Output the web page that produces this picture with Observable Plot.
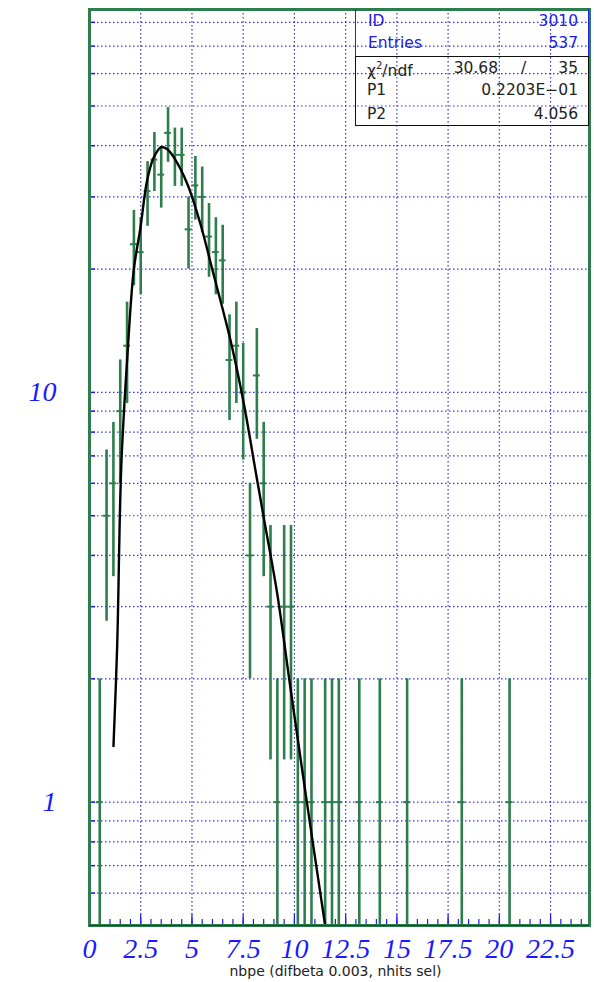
<!DOCTYPE html>
<html>
<head>
<meta charset="utf-8">
<script src="https://cdn.jsdelivr.net/npm/d3@7"></script>
<script src="https://cdn.jsdelivr.net/npm/@observablehq/plot@0.6"></script>
<style>
  body { margin: 0; background: #fff; }
  #chart { position: relative; width: 594px; height: 982px; }
  #chart svg { display: block; }
  .stats { position: absolute; font-family: "DejaVu Sans", "Liberation Sans", sans-serif; font-size: 15.5px; box-sizing: border-box; }
  .stats span { position: absolute; white-space: nowrap; line-height: 1; }
  .upper { left: 355px; top: 9px; width: 234px; height: 47px; border-left: 1.5px solid #2020e8; border-right: 1.5px solid #2020e8; color: #2020e8; }
  .lower { left: 355px; top: 56px; width: 234px; height: 70px; border: 1.5px solid #111; color: #222; }
</style>
</head>
<body>
<div id="chart"></div>
<script>
// nbpe histogram: bin centres (bin width 1/3) and entries per bin
const binWidth = 1 / 3;
const nbpe = [0.5, 0.833, 1.167, 1.5, 1.833, 2.167, 2.5, 2.833, 3.167, 3.5,
              3.833, 4.167, 4.5, 4.833, 5.167, 5.5, 5.833, 6.167, 6.5, 6.833,
              7.167, 7.5, 7.833, 8.167, 8.5, 8.833, 9.167, 9.5, 9.833, 10.167,
              10.5, 10.833, 11.5, 11.833, 12.167, 13.167, 14.167, 15.5, 18.167, 20.5];
const entries = [1, 5, 6, 9, 13, 23, 22, 31, 37, 34,
                 43, 38, 38, 25, 32, 30, 24, 22, 21, 12,
                 13, 10, 4, 11, 6, 3, 1, 3, 3, 1,
                 1, 1, 1, 1, 1, 1, 1, 1, 1, 1];

// Fitted function, sampled along the curve
const fitX = [1.17, 1.35, 1.55, 1.85, 2.16, 2.49, 2.81, 3.14, 3.5, 3.8,
              4.11, 4.77, 5.41, 6.0, 6.88, 7.53, 8.1, 8.5, 9.16, 9.8, 10.62, 11.5];
const fitY = [1.37, 2.4, 6.6, 12.3, 19.9, 25.3, 32.9, 37.5, 39.7, 39.2,
              37.5, 32.3, 25.8, 19.9, 13.4, 9.4, 6.45, 4.96, 3.23, 1.91, 0.99, 0.5];

// Axis ticks and labels
const xLabels = [0, 2.5, 5, 7.5, 10, 12.5, 15, 17.5, 20, 22.5];
const xMinor = d3.range(0, 24.5, 0.5);
const yLabels = [1, 10];
const yGrid = [0.6, 0.7, 0.8, 0.9, 1, 2, 3, 4, 5, 6, 7, 8, 9, 10, 20, 30, 40, 50, 60, 70, 80];
const xTitle = "nbpe (difbeta 0.003, nhits sel)";

// Statistics box
const statId = "3010";
const statEntries = "537";
const chi2 = "30.68", ndf = "35";
const p1 = "0.2203E\u221201", p2 = "4.056";

const green = "#2e7d4c";
const blue = "#1a1aff";
const yMin = 0.5, yMax = 86;

const bins = nbpe.map((x, i) => ({x, n: entries[i]}));
const fit = fitX.map((x, i) => ({x, y: fitY[i]}));
const half = binWidth / 2;
const serif = "'Liberation Serif', 'DejaVu Serif', serif";

const chart = Plot.plot({
  width: 594,
  height: 982,
  marginLeft: 89,
  marginRight: 5,
  marginTop: 9,
  marginBottom: 57,
  style: {background: "white", overflow: "visible"},
  x: {domain: [0, 24.4], label: null},
  y: {type: "log", domain: [yMin, yMax], label: null},
  marks: [
    Plot.gridX(xLabels.slice(1), {stroke: blue, strokeOpacity: 0.9, strokeWidth: 1.2, strokeDasharray: "1.5,2.5"}),
    Plot.gridY(yGrid, {stroke: blue, strokeOpacity: 0.9, strokeWidth: 1.2, strokeDasharray: "1.5,2.5"}),
    Plot.axisY(yGrid, {tickSize: 6, dx: 6, fill: "none", stroke: blue, strokeWidth: 1.5, label: null}),
    Plot.axisX(xMinor, {tickSize: 6, dy: -6, fill: "none", stroke: blue, strokeWidth: 1.2, label: null}),
    Plot.axisX(xLabels, {tickSize: 11, dy: -11, fill: "none", stroke: blue, strokeWidth: 1.2, label: null}),
    Plot.axisX(xLabels, {
      tickSize: 0, tickPadding: 13, fill: blue, label: null, tickFormat: d => String(d),
      fontSize: 28, fontStyle: "italic", fontFamily: serif
    }),
    Plot.axisY(yLabels, {
      tickSize: 0, tickPadding: 33, fill: blue, label: null, tickFormat: d => String(d),
      fontSize: 28, fontStyle: "italic", fontFamily: serif
    }),
    // statistical error bars (sqrt N) and bin-width markers
    Plot.ruleX(bins, {
      x: "x",
      y1: d => Math.max(d.n - Math.sqrt(d.n), yMin),
      y2: d => d.n + Math.sqrt(d.n),
      stroke: green, strokeWidth: 2.6
    }),
    Plot.ruleY(bins, {y: "n", x1: d => d.x - half, x2: d => d.x + half, stroke: green, strokeWidth: 2}),
    Plot.line(fit, {x: "x", y: "y", stroke: "black", strokeWidth: 2.4, curve: "catmull-rom", clip: true}),
    Plot.frame({stroke: green, strokeWidth: 3}),
    Plot.ruleY([yMin], {stroke: blue, strokeWidth: 1}),
    Plot.text([xTitle], {
      frameAnchor: "bottom", dy: 50, dx: -4, fill: "#222",
      fontSize: 14, fontFamily: "'DejaVu Sans', 'Liberation Sans', sans-serif"
    })
  ]
});

const root = document.getElementById("chart");
root.appendChild(chart);

// Statistics box drawn over the frame
const upper = document.createElement("div");
upper.className = "stats upper";
upper.innerHTML =
  `<span style="left:12px;top:5px">ID</span>` +
  `<span style="right:10px;top:5px">${statId}</span>` +
  `<span style="left:12px;top:27px">Entries</span>` +
  `<span style="right:10px;top:27px">${statEntries}</span>`;
root.appendChild(upper);

const lower = document.createElement("div");
lower.className = "stats lower";
lower.innerHTML =
  `<span style="left:11px;top:4px">&chi;<sup style="font-size:10px;vertical-align:7px">2</sup>/ndf</span>` +
  `<span style="right:90px;top:4px">${chi2}</span>` +
  `<span style="left:165px;top:4px">/</span>` +
  `<span style="right:10px;top:4px">${ndf}</span>` +
  `<span style="left:11px;top:26px">P1</span>` +
  `<span style="right:10px;top:26px">${p1}</span>` +
  `<span style="left:11px;top:50px">P2</span>` +
  `<span style="right:10px;top:50px">${p2}</span>`;
root.appendChild(lower);
</script>
</body>
</html>
